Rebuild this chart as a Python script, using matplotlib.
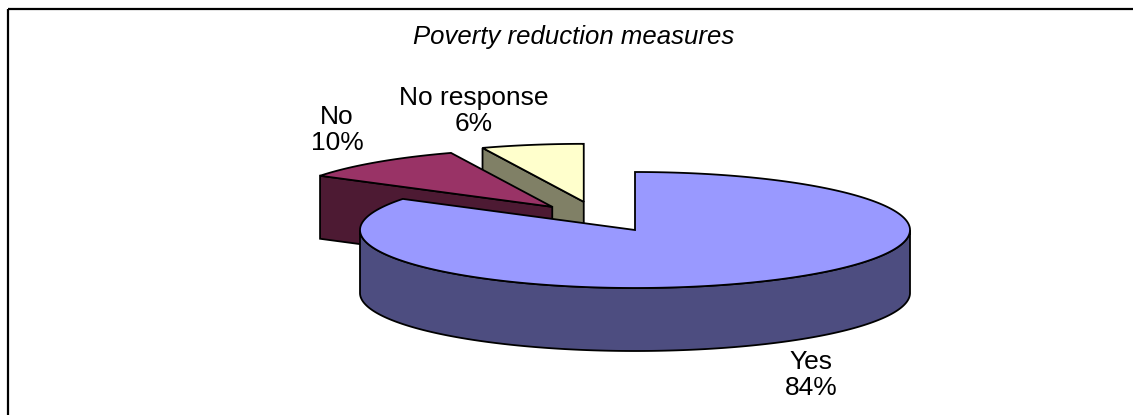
import numpy as np
import matplotlib
matplotlib.use("Agg")
import matplotlib.pyplot as plt
from matplotlib.patches import Polygon, Rectangle

# data
labels = ["Yes", "No", "No response"]
values = [84, 10, 6]
pct_labels = ["84%", "10%", "6%"]

# excel-ish colours: top face / side face
top_colors = ["#9999FF", "#993366", "#FFFFCC"]
side_colors = ["#4D4D80", "#4D1A33", "#808066"]

# explosion of each slice (radius units) and its direction in degrees
explode = [0.0, 0.50, 0.52]
explode_dir = [0.0, 127.0, 111.0]

# layout of the projected pie, in pixels (figure is 1133x415)
W, H = 1133, 415
CX, CY = 635, 230      # centre of top ellipse
RX, RY = 275, 58       # semi axes of top ellipse
DEPTH = 63             # thickness of the pie
label_pos = [(811, 375), (337, 130), (474, 111)]

plt.rcParams['font.family'] = ['Liberation Sans', 'DejaVu Sans']

fig = plt.figure(figsize=(W / 100, H / 100), dpi=100)
ax = fig.add_axes([0, 0, 1, 1])
ax.set_xlim(0, W)
ax.set_ylim(H, 0)
ax.axis("off")


def proj(ox, oy, t, r=1.0, z=0.0):
    # t in degrees, z = depth downwards in pixels
    tr = np.radians(t)
    return ox + RX * r * np.cos(tr), oy - RY * r * np.sin(tr) + z


total = float(sum(values))
slices = []
start = 90.0
for i, v in enumerate(values):
    sweep = 360.0 * v / total
    t0, t1 = start, start - sweep   # clockwise
    start = t1
    a = np.radians(explode_dir[i])
    ex, ey = explode[i] * np.cos(a), explode[i] * np.sin(a)
    ox, oy = CX + RX * ex, CY - RY * ey
    mid = np.radians((t0 + t1) / 2)
    depth_key = ey + 0.5 * np.sin(mid)
    slices.append(dict(i=i, t0=t0, t1=t1, ox=ox, oy=oy, key=depth_key))

# paint from back to front
slices.sort(key=lambda s: -s["key"])

edge_kw = dict(edgecolor="black", linewidth=1.3, joinstyle="miter")

for s in slices:
    i, t0, t1, ox, oy = s["i"], s["t0"], s["t1"], s["ox"], s["oy"]
    ts = np.linspace(t0, t1, 400)

    # radial faces
    for t_edge, normal in ((t0, t0 + 90), (t1, t1 - 90)):
        if np.sin(np.radians(normal)) < 0:
            ex_, ey_ = proj(ox, oy, t_edge)
            pts = [(ox, oy), (ex_, ey_), (ex_, ey_ + DEPTH), (ox, oy + DEPTH)]
            ax.add_patch(Polygon(pts, closed=True, facecolor=side_colors[i], **edge_kw))

    # outer wall, only the front part (sin t <= 0)
    front = np.sin(np.radians(ts)) <= 1e-9
    runs = []
    cur = []
    for t, f in zip(ts, front):
        if f:
            cur.append(t)
        elif cur:
            runs.append(cur)
            cur = []
    if cur:
        runs.append(cur)
    for run in runs:
        run = np.array(run)
        xs, ys = proj(ox, oy, run)
        pts = list(zip(xs, ys)) + list(zip(xs[::-1], ys[::-1] + DEPTH))
        ax.add_patch(Polygon(pts, closed=True, facecolor=side_colors[i], **edge_kw))

    # top face
    xs, ys = proj(ox, oy, ts)
    pts = [(ox, oy)] + list(zip(xs, ys))
    ax.add_patch(Polygon(pts, closed=True, facecolor=top_colors[i], **edge_kw))

# labels
for i in range(len(values)):
    x, y = label_pos[i]
    ax.text(x, y, labels[i] + "\n" + pct_labels[i], ha="center", va="center",
            fontsize=19, linespacing=1.15, color="black")

ax.text(574, 37, "Poverty reduction measures", ha="center", va="center",
        fontsize=18.5, style="italic", color="black")

# chart frame, right and bottom edges fall outside the picture
ax.add_patch(Rectangle((8, 9), W, H, fill=False, edgecolor="black",
                       linewidth=1.6, clip_on=False))

fig.savefig("out.png", dpi=100)
